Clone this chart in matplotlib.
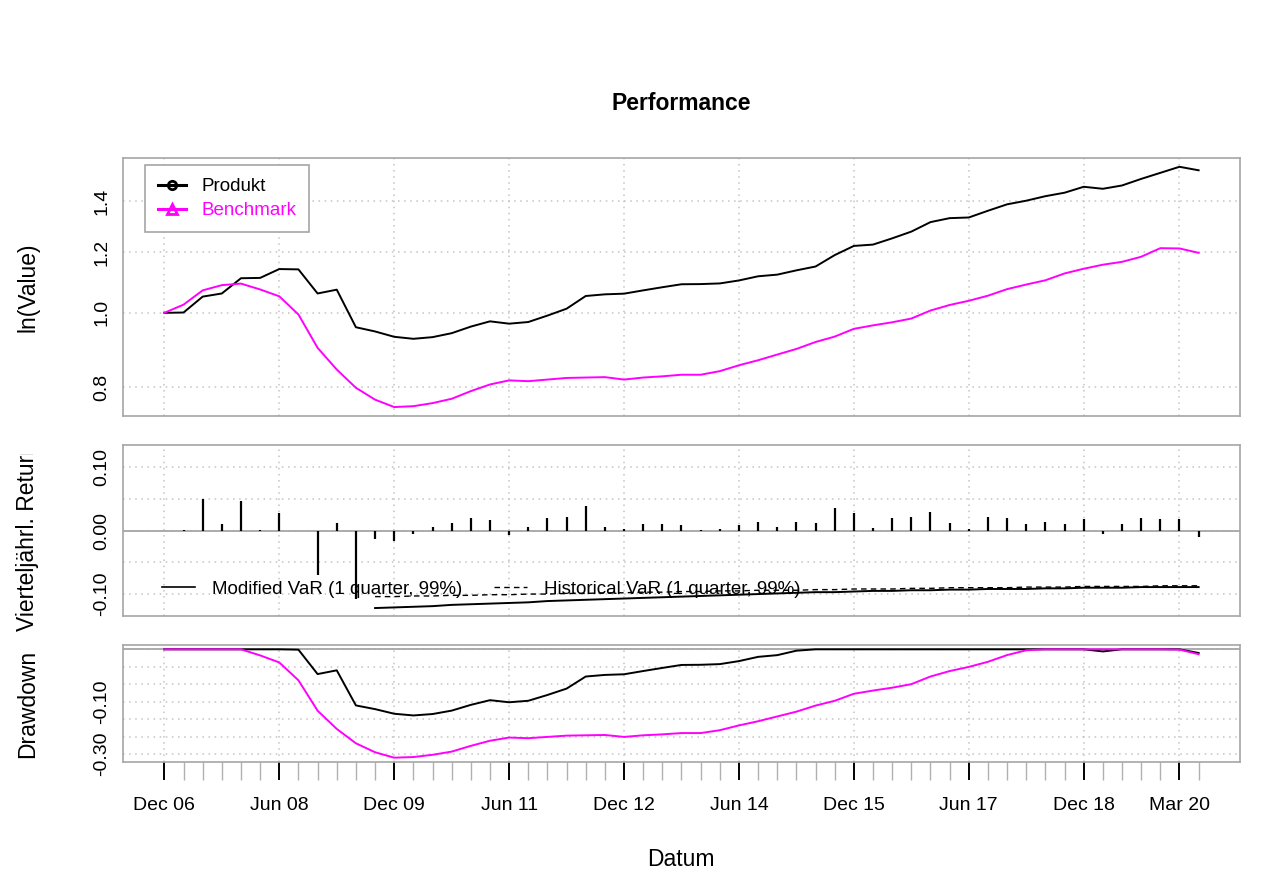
import numpy as np
import pandas as pd
import matplotlib
matplotlib.use('Agg')
import matplotlib.pyplot as plt
from matplotlib.lines import Line2D
from matplotlib.transforms import Bbox

plt.rcParams['font.family'] = ['Liberation Sans', 'DejaVu Sans']

# quarterly series, Dec 2006 .. Jun 2020
quarters = pd.period_range('2006Q4', '2020Q2', freq='Q')

# quarterly returns of the product (first quarter has none)
produkt_returns = [np.nan, 0.001, 0.049, 0.0095, 0.047, 0.001, 0.027, -0.001, -0.070, 0.0116, -0.107,
                   -0.0126, -0.016, -0.006, 0.005, 0.012, 0.020, 0.016, -0.007, 0.005, 0.0195,
                   0.021, 0.039, 0.005, 0.002, 0.010, 0.0095, 0.009, 0.0005, 0.002, 0.009,
                   0.0126, 0.005, 0.013, 0.0116, 0.035, 0.028, 0.004, 0.019, 0.0205, 0.029,
                   0.012, 0.002, 0.0205, 0.0195, 0.011, 0.0137, 0.0105, 0.018, -0.006, 0.010,
                   0.020, 0.0184, 0.0184, -0.0105]

# benchmark value index (start = 1)
benchmark_index = [1.000, 1.025, 1.070, 1.087, 1.092, 1.073, 1.051, 0.995, 0.900, 0.843, 0.798,
                   0.770, 0.753, 0.755, 0.762, 0.772, 0.790, 0.806, 0.816, 0.814, 0.818,
                   0.822, 0.823, 0.824, 0.818, 0.823, 0.826, 0.830, 0.830, 0.839, 0.854,
                   0.867, 0.882, 0.897, 0.916, 0.931, 0.953, 0.963, 0.972, 0.983, 1.007,
                   1.024, 1.037, 1.053, 1.074, 1.089, 1.103, 1.126, 1.142, 1.156, 1.166,
                   1.184, 1.215, 1.214, 1.198]

# expanding-window VaR estimates, starting Sep 2009
var_start = 11
modified_var = [-0.122, -0.121, -0.120, -0.119, -0.117, -0.116, -0.115, -0.114, -0.113, -0.111,
                -0.110, -0.109, -0.108, -0.107, -0.106, -0.105, -0.104, -0.103, -0.102, -0.101,
                -0.100, -0.099, -0.098, -0.097, -0.097, -0.096, -0.095, -0.095, -0.094, -0.094,
                -0.093, -0.093, -0.092, -0.092, -0.092, -0.091, -0.091, -0.090, -0.090, -0.090,
                -0.089, -0.089, -0.089, -0.089]
historical_var = [-0.104, -0.104, -0.103, -0.103, -0.102, -0.102, -0.101, -0.101, -0.100, -0.100,
                  -0.099, -0.099, -0.098, -0.098, -0.097, -0.097, -0.096, -0.096, -0.095, -0.095,
                  -0.094, -0.094, -0.094, -0.093, -0.093, -0.092, -0.092, -0.092, -0.091, -0.091,
                  -0.090, -0.090, -0.090, -0.090, -0.089, -0.089, -0.089, -0.088, -0.088, -0.088,
                  -0.088, -0.087, -0.087, -0.087]

tick_labels = ['Dec 06', 'Jun 08', 'Dec 09', 'Jun 11', 'Dec 12', 'Jun 14',
               'Dec 15', 'Jun 17', 'Dec 18', 'Mar 20']

x = np.arange(len(quarters))
labels = list(quarters.asfreq('M', 'end').strftime('%b %y'))
major = [labels.index(t) for t in tick_labels]

r = np.array(produkt_returns, dtype=float)
produkt = np.cumprod(1 + np.nan_to_num(r))
bench = np.array(benchmark_index)
dd_p = produkt / np.maximum.accumulate(produkt) - 1
dd_b = bench / np.maximum.accumulate(bench) - 1
xv = np.arange(var_start, var_start + len(modified_var))

W, H = 1279, 893
fig = plt.figure(figsize=(W / 100, H / 100), dpi=100)


def box(top, bottom):
    return [123 / W, 1 - bottom / H, (1240 - 123) / W, (bottom - top) / H]


ax1 = fig.add_axes(box(158, 416))
ax2 = fig.add_axes(box(445, 616))
ax3 = fig.add_axes(box(645, 762))

grid_kw = dict(color='#c4c4c4', linestyle=(0, (1, 3)), linewidth=1.1)
frame = '#a6a6a6'
for ax in (ax1, ax2, ax3):
    ax.set_xlim(-2.16, 56.16)
    ax.set_xticks(major)
    ax.grid(True, **grid_kw)
    ax.set_axisbelow(True)
    for s in ax.spines.values():
        s.set_color(frame)
        s.set_linewidth(1.2)
    ax.tick_params(axis='y', length=0, labelsize=14, labelrotation=90, pad=9)

# value panel
ax1.set_yscale('log')
ax1.set_ylim(0.733, 1.594)
ax1.set_yticks([0.8, 1.0, 1.2, 1.4])
ax1.set_yticklabels(['0.8', '1.0', '1.2', '1.4'])
ax1.yaxis.set_minor_locator(matplotlib.ticker.NullLocator())
ax1.tick_params(axis='x', length=0, labelbottom=False)
ax1.plot(x, produkt, color='black', lw=1.4)
ax1.plot(x, bench, color='#ff00ff', lw=1.4)
leg = ax1.legend(handles=[Line2D([], [], color='black', lw=2.2, marker='o', ms=6, mfc='none', mew=2),
                          Line2D([], [], color='#ff00ff', lw=2.2, marker='^', ms=7, mfc='none', mew=2)],
                 labels=['Produkt', 'Benchmark'], labelcolor=['black', '#ff00ff'],
                 loc='upper left', bbox_to_anchor=(0.0197, 0.973), fontsize=13.5,
                 fancybox=False, framealpha=1, edgecolor=frame, borderpad=0.7,
                 handlelength=1.5, handletextpad=0.8, labelspacing=0.37, borderaxespad=0)
leg.get_frame().set_linewidth(1.2)

# return panel
ax2.set_ylim(-0.1345, 0.1345)
ax2.set_yticks([-0.10, -0.05, 0.0, 0.05, 0.10])
ax2.set_yticklabels(['-0.10', '', '0.00', '', '0.10'])
ax2.tick_params(axis='x', length=0, labelbottom=False)
ax2.axhline(0, color=frame, lw=1.3)
ax2.vlines(x, 0, np.nan_to_num(r), color='black', lw=1.6)
ax2.plot(xv, modified_var, color='black', lw=1.4)
ax2.plot(xv, historical_var, color='black', lw=1.0, linestyle=(0, (4, 3)))
ax2.legend(handles=[Line2D([], [], color='black', lw=1.2),
                    Line2D([], [], color='black', lw=1.0, linestyle=(0, (4, 3)))],
           labels=['Modified VaR (1 quarter, 99%)', 'Historical VaR (1 quarter, 99%)'],
           ncol=2, frameon=False, loc='center left', bbox_to_anchor=(0.035, 0.155),
           fontsize=13.5, borderpad=0, borderaxespad=0, handlelength=1.75,
           handletextpad=0.9, columnspacing=1.7)

# drawdown panel
ax3.set_ylim(-0.3228, 0.0124)
ax3.set_yticks(np.arange(-0.30, 0.001, 0.05))
ax3.set_yticklabels(['-0.30', '', '', '-0.10', '', '', ''])
ax3.axhline(0, color=frame, lw=1.3)
ax3.plot(x, dd_p, color='black', lw=1.4)
ax3.plot(x, dd_b, color='#ff00ff', lw=1.4)
ax3.set_xticks(x, minor=True)
ax3.set_xticklabels(tick_labels, fontsize=14)
ax3.tick_params(axis='x', which='major', length=13, width=1.4, color='black', pad=12)
ax3.tick_params(axis='x', which='minor', length=13, width=1.0, color='#b0b0b0')
ax3.spines['bottom'].set_color(frame)

for ax in (ax1, ax2, ax3):
    for t in ax.get_yticklabels():
        t.set_va('center')

# y axis titles
yc = lambda top, bottom: 1 - (top + bottom) / 2 / H
fig.text(28 / W, yc(158, 416), 'ln(Value)', rotation=90, ha='center', va='center', fontsize=16.5)
t = fig.text(28 / W, yc(445, 616), 'Vierteljährl. Returns', rotation=90, ha='center', va='center',
             fontsize=16.5)
t.set_clip_box(Bbox.from_extents(0, 0, W, H - 454))
t.set_clip_on(True)
fig.text(28 / W, yc(645, 762), 'Drawdown', rotation=90, ha='center', va='center', fontsize=16.5)

fig.text(681 / W, 1 - 103 / H, 'Performance', ha='center', va='center', fontsize=16.5, weight='bold')
fig.text(681 / W, 1 - 860 / H, 'Datum', ha='center', va='center', fontsize=16.5)

fig.savefig('out.png', dpi=100, facecolor='white')
